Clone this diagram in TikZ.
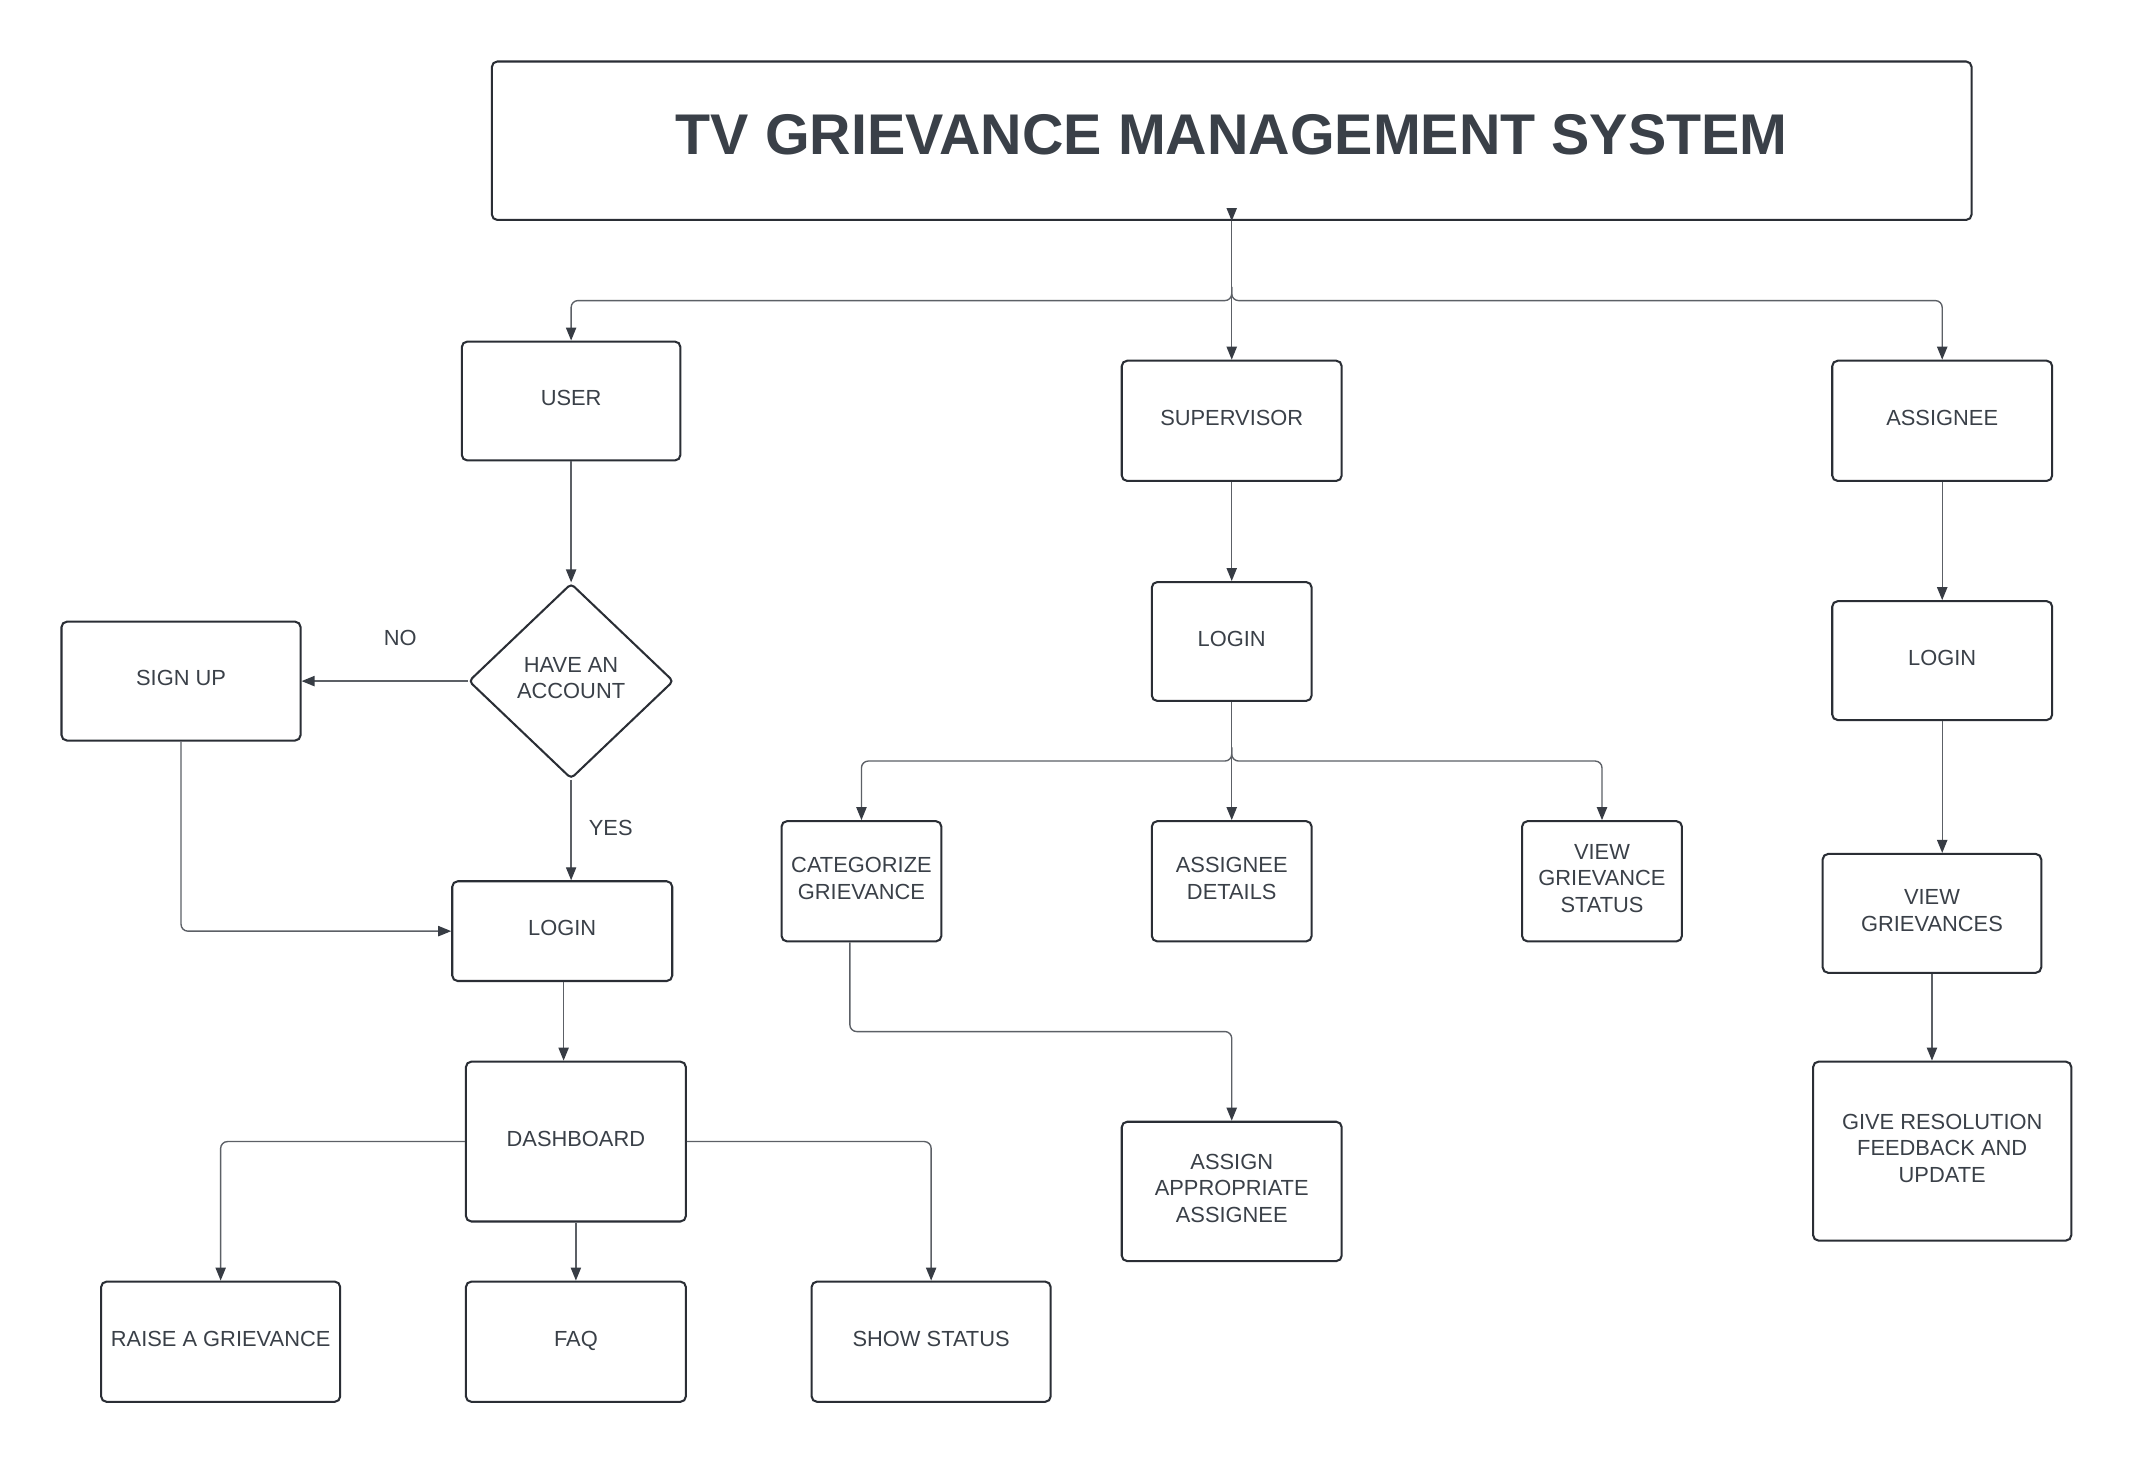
\documentclass[tikz,border=0pt]{standalone}
\usepackage{fontspec}
\setmainfont{Liberation Sans}
\usetikzlibrary{shapes.geometric,arrows.meta,calc}
\definecolor{txt}{RGB}{58,64,72}
\definecolor{bord}{RGB}{42,46,53}
\definecolor{conn}{RGB}{92,96,102}
\definecolor{head}{RGB}{55,60,68}
\begin{document}
\begin{tikzpicture}[x=1pt,y=-1pt,
  box/.style={draw=bord,line width=1.5pt,rounded corners=4pt,fill=white,text=txt,
    font=\fontsize{16}{19.5}\selectfont,align=center,inner sep=0pt,
    execute at end node={\rule[-4.5pt]{0pt}{4.5pt}}},
  link/.style={draw=conn,line width=1pt,-{Triangle[length=9.5pt,width=7.5pt,color=head]}},
  lbl/.style={text=txt,font=\fontsize{16}{19.5}\selectfont,inner sep=0pt}]
\useasboundingbox[fill=white] (0,0) rectangle (1567,1070);

% title
\node[box,minimum width=1083pt,minimum height=116pt,
  font=\fontsize{42}{50}\selectfont\bfseries,text height=30pt,text depth=10pt]
  (title) at (901.5,103) {TV GRIEVANCE MANAGEMENT SYSTEM};

% top level
\node[box,minimum width=160pt,minimum height=87pt] (user) at (418,293.5) {USER};
\node[box,minimum width=161pt,minimum height=88pt] (supervisor) at (901.5,308) {SUPERVISOR};
\node[box,minimum width=161pt,minimum height=88pt] (assignee) at (1421.5,308) {ASSIGNEE};

% user branch
\node[box,shape=diamond,aspect=1.05,minimum width=150pt,minimum height=143pt,rounded corners=3pt,
  execute at end node={}]
  (acct) at (418,498.5) {HAVE AN\\ACCOUNT};
\node[box,minimum width=175pt,minimum height=87pt] (signup) at (132.5,498.5) {SIGN UP};
\node[box,minimum width=161pt,minimum height=73pt] (ulogin) at (411.5,681.5) {LOGIN};
\node[box,minimum width=161pt,minimum height=117pt] (dash) at (421.5,835.5) {DASHBOARD};
\node[box,minimum width=175pt,minimum height=88pt] (raise) at (161.5,982) {RAISE A GRIEVANCE};
\node[box,minimum width=161pt,minimum height=88pt] (faq) at (421.5,982) {FAQ};
\node[box,minimum width=175pt,minimum height=88pt] (show) at (681.5,982) {SHOW STATUS};
\node[lbl] (no) at (293,467) {NO};
\node[lbl] (yes) at (447,606) {YES};

% supervisor branch
\node[box,minimum width=117pt,minimum height=87pt] (slogin) at (901.5,469.5) {LOGIN};
\node[box,minimum width=117pt,minimum height=88pt] (categ) at (630.5,645) {CATEGORIZE\\GRIEVANCE};
\node[box,minimum width=117pt,minimum height=88pt] (adet) at (901.5,645) {ASSIGNEE\\DETAILS};
\node[box,minimum width=117pt,minimum height=88pt] (vgs) at (1172.5,645) {VIEW\\GRIEVANCE\\STATUS};
\node[box,minimum width=161pt,minimum height=102pt] (assign) at (901.5,872) {ASSIGN\\APPROPRIATE\\ASSIGNEE};

% assignee branch
\node[box,minimum width=161pt,minimum height=87pt] (alogin) at (1421.5,483.5) {LOGIN};
\node[box,minimum width=160pt,minimum height=87pt] (vg) at (1414,668.5) {VIEW\\GRIEVANCES};
\node[box,minimum width=189pt,minimum height=131pt] (give) at (1421.5,842.5) {GIVE RESOLUTION\\FEEDBACK AND\\UPDATE};

% connectors: title
\draw[link] ($(title.south)+(0,-9.5)$) -- (title.south);
\coordinate (j1) at (901.5,220);
\draw[link] (title.south) -- (supervisor.north);
\draw[link,rounded corners=5pt] ($(j1)+(0,-10)$) -- (j1) -- (j1 -| user.north) -- (user.north);
\draw[link,rounded corners=5pt] ($(j1)+(0,-10)$) -- (j1) -- (j1 -| assignee.north) -- (assignee.north);

% user
\draw[link] (user.south) -- (acct.north);
\draw[link] (acct.west) -- (signup.east);
\draw[link] (acct.south) -- (acct.south |- ulogin.north);
\draw[link,rounded corners=5pt] (signup.south) -- (signup.south |- ulogin.west) -- (ulogin.west);
\coordinate (d1) at (412.5,0);
\draw[link] (ulogin.south -| d1) -- (dash.north -| d1);
\draw[link,rounded corners=5pt] (dash.west) -- (dash.west -| raise.north) -- (raise.north);
\draw[link] (dash.south) -- (faq.north);
\draw[link,rounded corners=5pt] (dash.east) -- (dash.east -| show.north) -- (show.north);

% supervisor
\draw[link] (supervisor.south) -- (slogin.north);
\coordinate (j2) at (901.5,557);
\draw[link] (slogin.south) -- (adet.north);
\draw[link,rounded corners=5pt] ($(j2)+(0,-10)$) -- (j2) -- (j2 -| categ.north) -- (categ.north);
\draw[link,rounded corners=5pt] ($(j2)+(0,-10)$) -- (j2) -- (j2 -| vgs.north) -- (vgs.north);
\coordinate (k) at (622,755);
\draw[link,rounded corners=5pt] (categ.south -| k) -- (k) -- (k -| assign.north) -- (assign.north);

% assignee
\draw[link] (assignee.south) -- (alogin.north);
\draw[link] (alogin.south) -- (alogin.south |- vg.north);
\draw[link] (vg.south) -- (vg.south |- give.north);
\end{tikzpicture}
\end{document}
